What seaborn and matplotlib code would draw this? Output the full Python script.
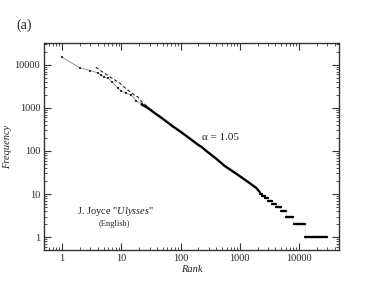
import matplotlib
matplotlib.use("Agg")
import matplotlib.pyplot as plt
import matplotlib.ticker as mticker
import seaborn as sns
import pandas as pd
import numpy as np

# ---- data ----
# head of the observed rank-frequency curve (thin dotted)
head_rank = [1, 2, 3, 4, 4.5, 5, 6, 7, 8.7, 10, 12, 14.6, 18, 22, 26]
head_freq = [15000, 8500, 7400, 6500, 5900, 5200, 4900, 4000, 2870, 2500, 2200, 2000, 1450, 1250, 1100]

# second (dashed) head curve
dash_rank = [3.7, 5, 6.8, 9.4, 12, 15.7, 18.9, 22, 27]
dash_freq = [8800, 6600, 5000, 3750, 2800, 2100, 1800, 1400, 1100]

# body of the curve (thick)
body_rank = [22, 28, 37, 50, 75, 100, 150, 196, 230, 260, 300, 400, 554, 750, 1000, 1500, 1900, 2180]
body_freq = [1200, 1000, 750, 560, 367, 280, 185, 140, 122, 105, 90, 66, 45, 34, 26, 17.5, 13.8, 11]

# plateaus of low frequencies: freq, start rank, end rank
plat_freq = [10, 9, 8, 7, 6, 5, 4, 3, 2, 1]
plat_start = [2180, 2410, 2690, 3040, 3500, 4130, 4870, 6080, 8170, 12700]
plat_end = [2410, 2690, 3040, 3500, 4130, 4870, 6080, 7860, 12700, 29100]

x_ticks = [1, 10, 100, 1000, 10000]
y_ticks = [1, 10, 100, 1000, 10000]

# ---- figure ----
sns.set_theme(style="white")
plt.rcParams['font.family'] = ['Liberation Serif', 'DejaVu Serif']
plt.rcParams['mathtext.fontset'] = 'custom'
plt.rcParams['mathtext.rm'] = 'Liberation Serif'
plt.rcParams['mathtext.it'] = 'Liberation Serif:italic'

fig = plt.figure(figsize=(3.82, 2.95), dpi=100)
ax = fig.add_axes([0.116, 0.1525, 0.771, 0.7005])

head_df = pd.DataFrame({"rank": head_rank, "freq": head_freq})
dash_df = pd.DataFrame({"rank": dash_rank, "freq": dash_freq})
body_df = pd.DataFrame({"rank": body_rank, "freq": body_freq})

rows = []
for i, (f, s, e) in enumerate(zip(plat_freq, plat_start, plat_end)):
    rows.append({"rank": s, "freq": f, "seg": i})
    rows.append({"rank": e, "freq": f, "seg": i})
plat_df = pd.DataFrame(rows)

sns.lineplot(data=head_df, x="rank", y="freq", ax=ax, color="#999999", lw=0.7,
             linestyle="-", marker="s", markersize=1.8, markeredgewidth=0,
             markerfacecolor="#333333", estimator=None, sort=False)
sns.lineplot(data=dash_df, x="rank", y="freq", ax=ax, color="#222222", lw=0.8,
             linestyle=(0, (3, 2)), estimator=None, sort=False)
sns.lineplot(data=body_df, x="rank", y="freq", ax=ax, color="black", lw=1.7,
             estimator=None, sort=False)
# thin connections between plateaus
sns.lineplot(data=plat_df, x="rank", y="freq", ax=ax, color="#999999", lw=0.5,
             linestyle=":", estimator=None, sort=False)
sns.lineplot(data=plat_df, x="rank", y="freq", units="seg", ax=ax, color="black",
             lw=1.7, estimator=None, sort=False)

ax.set_xscale("log")
ax.set_yscale("log")
ax.set_xlim(0.5, 47000)
ax.set_ylim(0.5, 31600)

ax.xaxis.set_major_locator(mticker.FixedLocator(x_ticks))
ax.yaxis.set_major_locator(mticker.FixedLocator(y_ticks))
ax.xaxis.set_minor_locator(mticker.LogLocator(base=10, subs=np.arange(2, 10)))
ax.yaxis.set_minor_locator(mticker.LogLocator(base=10, subs=np.arange(2, 10)))
ax.xaxis.set_major_formatter(mticker.FixedFormatter([str(v) for v in x_ticks]))
ax.yaxis.set_major_formatter(mticker.FixedFormatter([str(v) for v in y_ticks]))
ax.xaxis.set_minor_formatter(mticker.NullFormatter())
ax.yaxis.set_minor_formatter(mticker.NullFormatter())

ax.tick_params(which="both", direction="in", top=True, right=True,
               bottom=True, left=True, color="#333333", labelsize=7.5, pad=3)
ax.tick_params(which="major", length=5, width=0.8)
ax.tick_params(which="minor", length=2.5, width=0.6)
for sp in ax.spines.values():
    sp.set_color("#333333")
    sp.set_linewidth(1.0)

ax.set_xlabel("Rank", fontstyle="italic", fontsize=7.5, labelpad=1, color="#222222")
ax.set_ylabel("Frequency", fontstyle="italic", fontsize=7.5, labelpad=2, color="#222222")

fig.text(220 / 382, 1 - 138 / 295, "\u03b1 = 1.05",
         ha="center", va="center", fontsize=8, color="#222222")
fig.text(115 / 382, 1 - 212 / 295, r'J. Joyce "$\mathit{Ulysses}$"',
         ha="center", va="center", fontsize=7.5, color="#222222")
fig.text(114 / 382, 1 - 224 / 295, "(English)",
         ha="center", va="center", fontsize=6, color="#222222")
fig.text(24 / 382, 1 - 25 / 295, "(a)", ha="center", va="center", fontsize=10,
         color="#222222")

fig.savefig("out.png", dpi=100)
